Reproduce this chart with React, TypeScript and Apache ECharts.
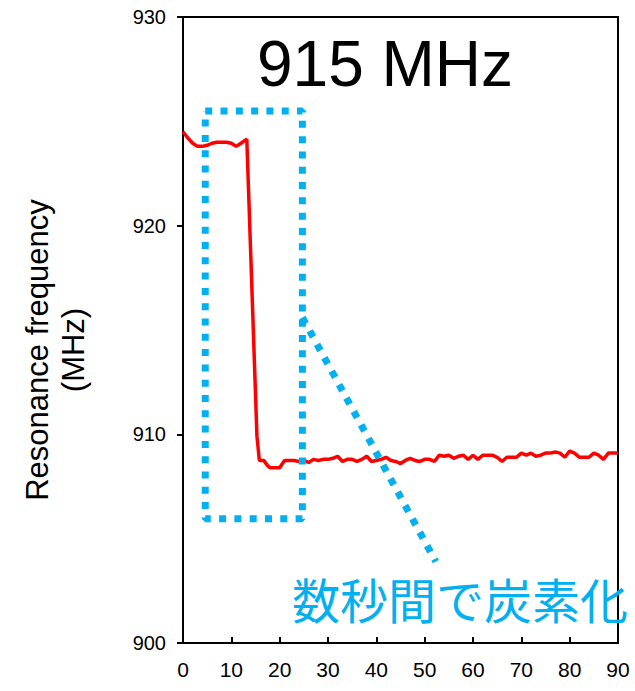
import React, { useEffect, useRef } from "react";
import * as echarts from "echarts";

const timeSec = [
  0, 1, 2, 3, 4, 5, 6, 7, 8, 9, 10, 11, 12, 13.2, 14.9, 15.3, 15.8, 16.7, 17.5, 18, 19, 20,
  21, 22, 23, 24, 25, 26, 27, 28, 29, 30, 31, 32, 33, 34, 35, 36, 37, 38, 39, 40,
  41, 42, 43, 44, 45, 46, 47, 48, 49, 50, 51, 52, 53, 54, 55, 56, 57, 58, 59, 60,
  61, 62, 63, 64, 65, 66, 67, 68, 69, 70, 71, 72, 73, 74, 75, 76, 77, 78, 79, 80,
  81, 82, 83, 84, 85, 86, 87, 88, 89, 90,
];
const freqMHz = [
  924.5, 924.2, 923.95, 923.8, 923.8, 923.85, 923.95, 924.0, 924.0, 924.0, 923.95, 923.8, 923.95, 924.15,
  912.6, 909.9, 908.75, 908.75, 908.5, 908.4, 908.4, 908.4,
  908.75, 908.75, 908.75, 908.7, 908.75, 908.65, 908.8, 908.75, 908.8, 908.8,
  908.85, 908.95, 908.7, 908.8, 908.8, 908.7, 908.8, 908.95, 908.7, 908.75,
  908.8, 908.9, 908.75, 908.7, 908.6, 908.75, 908.85, 908.75, 908.7, 908.8,
  908.8, 908.7, 909.0, 908.95, 909.0, 908.85, 908.95, 909.0, 908.8, 909.0,
  908.8, 909.0, 909.0, 909.0, 908.9, 908.7, 908.9, 908.9, 908.9, 909.1,
  909.0, 909.1, 908.95, 909.0, 909.1, 909.1, 909.15, 909.1, 908.9, 909.2,
  909.1, 908.9, 908.9, 908.9, 909.1, 909.0, 908.8, 909.1, 909.1, 909.1,
];

// Annotation geometry (data coordinates)
const boxX = [4.6, 24.7];
const boxY = [905.95, 925.5];
const pointerX = [24.7, 52.3];
const pointerY = [915.6, 903.9];

const titleText = "915 MHz";
const noteText = "数秒間で炭素化";
const yLabelLines = ["Resonance frequency", "(MHz)"];

const BLUE = "#00B0F0";

export default function App() {
  const ref = useRef<HTMLDivElement>(null);
  useEffect(() => {
    if (!ref.current) return;
    const chart = echarts.init(ref.current, null, { renderer: "svg" });
    const lineData = timeSec.map((t, i) => [t, freqMHz[i]]);
    const boxData = [
      [boxX[0], boxY[1]],
      [boxX[1], boxY[1]],
      [boxX[1], boxY[0]],
      [boxX[0], boxY[0]],
      [boxX[0], boxY[1]],
    ];
    const pointerData = [
      [pointerX[0], pointerY[0]],
      [pointerX[1], pointerY[1]],
    ];
    const font = "'Liberation Sans', Arial, sans-serif";
    chart.setOption({
      animation: false,
      grid: {
        left: 183,
        top: 17,
        right: 17,
        bottom: 48,
        show: true,
        borderColor: "#000",
        borderWidth: 2,
        backgroundColor: "transparent",
      },
      xAxis: {
        type: "value",
        min: 0,
        max: 90,
        interval: 10,
        axisLine: { show: true, lineStyle: { color: "#000", width: 2 } },
        axisTick: { show: true, inside: true, length: 6, lineStyle: { color: "#000", width: 2 } },
        axisLabel: { color: "#000", fontSize: 21, fontFamily: font, margin: 16 },
        splitLine: { show: false },
      },
      yAxis: {
        type: "value",
        min: 900,
        max: 930,
        interval: 10,
        axisLine: { show: true, lineStyle: { color: "#000", width: 2 } },
        axisTick: { show: true, inside: false, length: 6, lineStyle: { color: "#000", width: 2 } },
        axisLabel: { color: "#000", fontSize: 20, fontFamily: font, margin: 17 },
        splitLine: { show: false },
      },
      series: [
        {
          type: "line",
          data: lineData,
          showSymbol: false,
          symbol: "none",
          lineStyle: { color: "#FF0000", width: 3.5 },
          z: 3,
        },
        {
          type: "line",
          data: boxData,
          showSymbol: false,
          symbol: "none",
          lineStyle: { color: BLUE, width: 7, type: [7, 8.3], cap: "butt" },
          z: 4,
        },
        {
          type: "line",
          data: pointerData,
          showSymbol: false,
          symbol: "none",
          lineStyle: { color: BLUE, width: 7, type: [7, 8.3], cap: "butt" },
          z: 4,
        },
      ],
      graphic: [
        {
          type: "text",
          x: 385,
          y: 64,
          style: {
            text: titleText,
            fill: "#000",
            font: `64px ${font}`,
            textAlign: "center",
            textVerticalAlign: "middle",
          },
          z: 10,
        },
        {
          type: "text",
          x: 292,
          y: 598,
          style: {
            text: noteText,
            fill: BLUE,
            font: `48px 'Noto Sans CJK JP', sans-serif`,
            textAlign: "left",
            textVerticalAlign: "middle",
          },
          z: 1,
        },
        {
          type: "text",
          x: 37,
          y: 350,
          rotation: Math.PI / 2,
          style: {
            text: yLabelLines[0],
            fill: "#000",
            font: `31px ${font}`,
            textAlign: "center",
            textVerticalAlign: "middle",
          },
        },
        {
          type: "text",
          x: 73,
          y: 350,
          rotation: Math.PI / 2,
          style: {
            text: yLabelLines[1],
            fill: "#000",
            font: `31px ${font}`,
            textAlign: "center",
            textVerticalAlign: "middle",
          },
        },
      ],
    });
    return () => chart.dispose();
  }, []);
  return (
    <div
      ref={ref}
      style={{ position: "fixed", left: 0, top: 0, width: 635, height: 691, background: "#fff" }}
    />
  );
}
